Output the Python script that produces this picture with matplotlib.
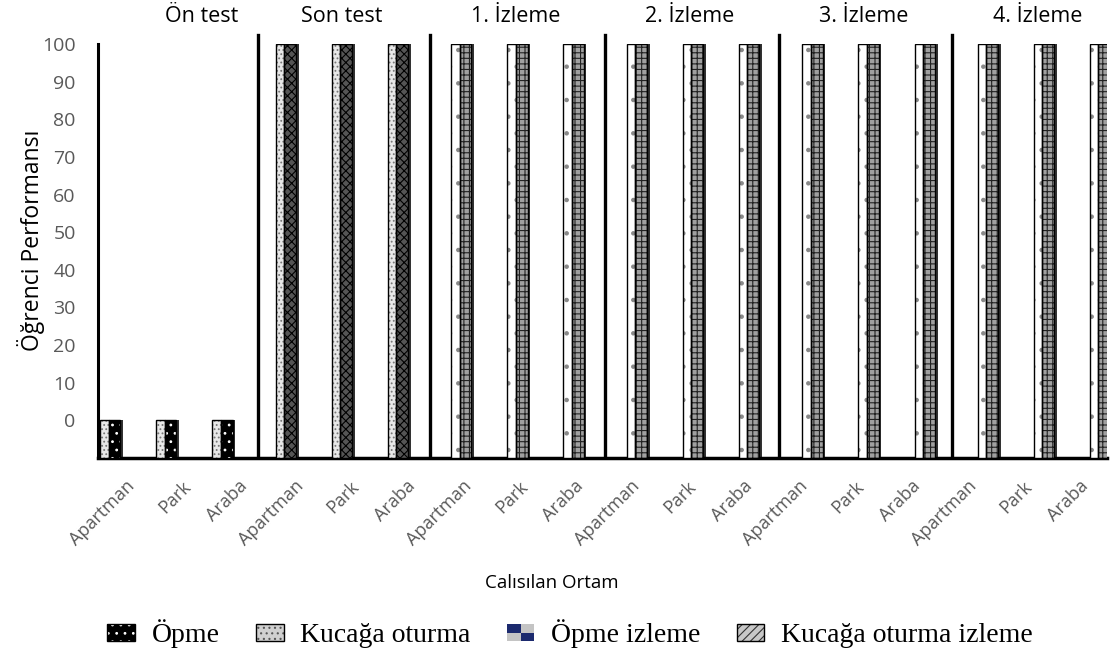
"""Öğrenci performansı - çalışılan ortama göre sütun grafiği"""

import matplotlib
matplotlib.use('Agg')
import matplotlib.pyplot as plt
from matplotlib.patches import Patch, Rectangle
from matplotlib.legend_handler import HandlerTuple, HandlerBase

plt.rcParams['font.family'] = ['Open Sans', 'DejaVu Sans']
plt.rcParams['hatch.linewidth'] = 0.8

# data
phases = ['Ön test', 'Son test', '1. İzleme', '2. İzleme', '3. İzleme', '4. İzleme']
settings = ['Apartman', 'Park', 'Araba']
opme = [0, 0, 0, 100, 100, 100, 100, 100, 100,
        100, 100, 100, 100, 100, 100, 100, 100, 100]
kucaga = [0, 0, 0, 100, 100, 100, 100, 100, 100,
          100, 100, 100, 100, 100, 100, 100, 100, 100]
y_ticks = [0, 10, 20, 30, 40, 50, 60, 70, 80, 90, 100]
legend_labels = ['Öpme', 'Kucağa oturma', 'Öpme izleme', 'Kucağa oturma izleme']

BASE = -10


def hatched_bar(ax, x, w, top, face, hatch_col, hatch):
    """bar with hatch fill and black outline"""
    ax.bar(x, top - BASE, width=w, bottom=BASE, align='edge', color=face,
           edgecolor=hatch_col, hatch=hatch, linewidth=0, zorder=3)
    ax.bar(x, top - BASE, width=w, bottom=BASE, align='edge', fill=False,
           edgecolor='black', linewidth=1.0, zorder=4)


class CheckerKey(Patch):
    """marker class for the checker legend key"""


class CheckerHandler(HandlerBase):
    """2x2 checker legend key"""
    def create_artists(self, legend, orig_handle, xdescent, ydescent,
                       width, height, fontsize, trans):
        arts = []
        cols = [['#1c2a6e', '#c4c4c4'], ['#c4c4c4', '#1c2a6e']]
        for i in range(2):
            for j in range(2):
                r = Rectangle((-xdescent + j * width / 2, -ydescent + (1 - i) * height / 2),
                              width / 2, height / 2, facecolor=cols[i][j],
                              edgecolor='none', transform=trans)
                arts.append(r)
        return arts


fig = plt.figure(figsize=(11.13, 6.57), dpi=100)
ax = fig.add_axes([0.088, 0.303, 0.907, 0.630])

light_styles = [('#e8e8e8', '#777777', '....'), ('#e8e8e8', '#777777', '....'),
                ('white', '#888888', '.'), ('white', '#888888', '.'),
                ('white', '#888888', '.'), ('white', '#888888', '.')]
dark_styles = [('black', 'white', '..'), ('#555555', 'black', 'xxxx'),
               ('#a0a0a0', '#222222', '+++'), ('#a0a0a0', '#222222', '+++'),
               ('#a0a0a0', '#222222', '+++'), ('#a0a0a0', '#222222', '+++')]

n = len(opme)
for i in range(n):
    p = i // len(settings)
    left = i - 0.5 + 0.04 + 0.13 * p
    fc, hc, h = light_styles[p]
    hatched_bar(ax, left, 0.15, kucaga[i], fc, hc, h)
    fc, hc, h = dark_styles[p]
    hatched_bar(ax, left + 0.15, 0.21, opme[i], fc, hc, h)
    # 3d side
    ax.bar(left + 0.36, opme[i] - BASE, width=0.05, bottom=BASE, align='edge',
           color='#333333', linewidth=0, zorder=2)

# phase separators and titles
sep_x = [2.35, 5.42, 8.55, 11.64, 14.72]
for sx in sep_x:
    ax.plot([sx, sx], [BASE + 0.5, 102.5], color='black', lw=2.4,
            clip_on=False, zorder=5)
title_x = [1.35, 3.85, 6.95, 10.05, 13.15, 16.25]
for tx, name in zip(title_x, phases):
    ax.text(tx, 104.5, name, ha='center', va='bottom', fontsize=15.5)

ax.set_xlim(-0.5, n - 0.5)
ax.set_ylim(BASE, 100)
ax.set_yticks(y_ticks)
ax.set_yticklabels([str(v) for v in y_ticks], color='#595959', fontsize=14)
ax.set_xticks(range(n))
ax.set_xticklabels(settings * len(phases), rotation=45, ha='right',
                   rotation_mode='anchor', color='#595959', fontsize=13)
ax.tick_params(axis='both', length=0)
ax.tick_params(axis='y', pad=16)
ax.tick_params(axis='x', pad=14)
for side in ['top', 'right']:
    ax.spines[side].set_visible(False)
ax.spines['left'].set_linewidth(2.2)
ax.spines['bottom'].set_linewidth(2.5)

fig.text(0.028, 1 - 240 / 657, 'Öğrenci Performansı', rotation=90,
         ha='center', va='center', fontsize=16.5)
fig.text(552 / 1113, 1 - 583 / 657, 'Calısılan Ortam', ha='center',
         va='center', fontsize=13.5)

# legend
h_opme = (Patch(facecolor='black', edgecolor='white', hatch='..', lw=0),
          Patch(fill=False, edgecolor='black', lw=1))
h_kuc = (Patch(facecolor='#d0d0d0', edgecolor='#555555', hatch='...', lw=0),
         Patch(fill=False, edgecolor='black', lw=1))
h_opiz = CheckerKey(facecolor='#1c2a6e')
h_kuciz = (Patch(facecolor='#c8c8c8', edgecolor='#333333', hatch='////', lw=0),
           Patch(fill=False, edgecolor='black', lw=1))
fig.legend([h_opme, h_kuc, h_opiz, h_kuciz], legend_labels,
           handler_map={tuple: HandlerTuple(ndivide=1, pad=0),
                        CheckerKey: CheckerHandler()},
           loc='center', bbox_to_anchor=(570 / 1113, 1 - 634 / 657), ncol=4,
           frameon=False, prop={'family': 'Liberation Serif', 'size': 20},
           handlelength=1.0, handleheight=0.6, handletextpad=0.6, columnspacing=1.3)

fig.savefig('out.png', dpi=100)
